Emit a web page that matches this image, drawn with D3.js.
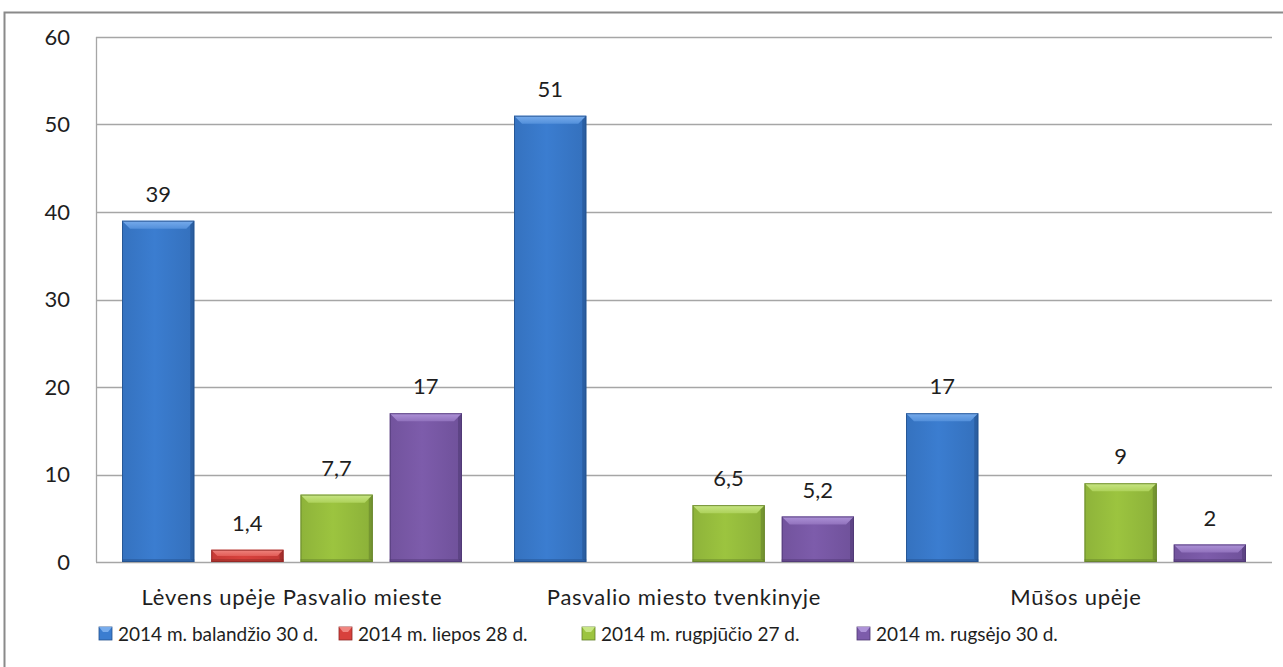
<!DOCTYPE html>
<html>
<head>
<meta charset="utf-8">
<script src="https://cdn.jsdelivr.net/npm/d3@7"></script>
<style>
  body { margin: 0; background: #fff; }
  svg { display: block; }
</style>
</head>
<body>
<div id="chart"></div>
<script>
// Duomenys
const categories = ["Lėvens upėje Pasvalio mieste", "Pasvalio miesto tvenkinyje", "Mūšos upėje"];
const seriesNames = ["2014 m. balandžio 30 d.", "2014 m. liepos 28 d.", "2014 m. rugpjūčio 27 d.", "2014 m. rugsėjo 30 d."];
const valuesBalandzio = [39, 51, 17];
const valuesLiepos = [1.4, null, null];
const valuesRugpjucio = [7.7, 6.5, 9];
const valuesRugsejo = [17, 5.2, 2];
const yTicks = [0, 10, 20, 30, 40, 50, 60];

const seriesValues = [valuesBalandzio, valuesLiepos, valuesRugpjucio, valuesRugsejo];
const colors = [
  { base: "#3b7dd0", light: "#78acec", dark: "#23508c" },
  { base: "#d8413c", light: "#f08680", dark: "#8e2724" },
  { base: "#9cc43f", light: "#c8e685", dark: "#63802a" },
  { base: "#7d5cab", light: "#ae93d8", dark: "#4f3873" }
];

const W = 1283, H = 667;
const margin = { top: 37, right: 11, bottom: 105, left: 96 };
const font = "Lato, 'Open Sans', sans-serif";

const svg = d3.select("#chart").append("svg")
  .attr("width", W).attr("height", H)
  .style("font-family", font);

// gradientai stulpeliams
const defs = svg.append("defs");
colors.forEach((c, i) => {
  const gr = defs.append("linearGradient").attr("id", "body" + i)
    .attr("x1", 0).attr("x2", 1).attr("y1", 0).attr("y2", 0);
  gr.append("stop").attr("offset", 0).attr("stop-color", d3.interpolateRgb(c.base, c.dark)(0.25));
  gr.append("stop").attr("offset", 0.45).attr("stop-color", c.base);
  gr.append("stop").attr("offset", 1).attr("stop-color", d3.interpolateRgb(c.base, c.dark)(0.3));
  const tg = defs.append("linearGradient").attr("id", "top" + i)
    .attr("x1", 0).attr("x2", 0).attr("y1", 0).attr("y2", 1);
  tg.append("stop").attr("offset", 0).attr("stop-color", c.light);
  tg.append("stop").attr("offset", 1).attr("stop-color", d3.interpolateRgb(c.light, c.base)(0.6));
});

// Rėmelis
svg.append("rect")
  .attr("x", 4.5).attr("y", 12.5)
  .attr("width", W + 20).attr("height", H + 20)
  .attr("fill", "none").attr("stroke", "#8a8a8a").attr("stroke-width", 2);

const x0 = d3.scaleBand()
  .domain(categories)
  .range([margin.left, W - margin.right])
  .paddingInner(0).paddingOuter(0);

const x1 = d3.scaleBand()
  .domain(d3.range(seriesNames.length))
  .range([26, x0.bandwidth() - 26])
  .paddingInner(0.19).paddingOuter(0);

const y = d3.scaleLinear().domain([0, 60]).range([H - margin.bottom, margin.top]);

// Tinklelis
svg.append("g").selectAll("line")
  .data(yTicks)
  .join("line")
  .attr("x1", margin.left).attr("x2", W - margin.right)
  .attr("y1", d => Math.round(y(d)) + 0.5).attr("y2", d => Math.round(y(d)) + 0.5)
  .attr("stroke", "#a6a6a6").attr("stroke-width", 1.3);

// Y ašis
svg.append("line")
  .attr("x1", margin.left + 0.5).attr("x2", margin.left + 0.5)
  .attr("y1", y(60)).attr("y2", y(0))
  .attr("stroke", "#a6a6a6").attr("stroke-width", 1.3);

svg.append("g").selectAll("text")
  .data(yTicks)
  .join("text")
  .attr("x", 70).attr("y", d => y(d))
  .attr("dy", "0.36em")
  .attr("text-anchor", "end")
  .attr("font-size", 22).attr("fill", "#1e1e1e")
  .text(d => d);

// Stulpeliai
const bars = [];
categories.forEach((c, ci) => {
  seriesValues.forEach((vals, si) => {
    if (vals[ci] != null) bars.push({ c, si, v: vals[ci] });
  });
});

const fmt = v => String(v).replace(".", ",");

const g = svg.append("g");
bars.forEach(d => {
  const bx = x0(d.c) + x1(d.si);
  const bw = x1.bandwidth();
  const by = y(d.v);
  const bh = y(0) - by;
  const col = colors[d.si];
  const bev = Math.min(8, bh / 2);
  const bg = g.append("g");
  // pagrindas
  bg.append("rect").attr("x", bx).attr("y", by).attr("width", bw).attr("height", bh)
    .attr("fill", `url(#body${d.si})`);
  // viršus
  bg.append("polygon")
    .attr("points", [[bx, by], [bx + bw, by], [bx + bw - bev, by + bev], [bx + bev, by + bev]].join(" "))
    .attr("fill", `url(#top${d.si})`);
  // dešinė
  bg.append("polygon")
    .attr("points", [[bx + bw, by], [bx + bw - 4, by + Math.min(4, bev)], [bx + bw - 4, by + bh - 3], [bx + bw, by + bh]].join(" "))
    .attr("fill", col.dark).attr("opacity", 0.55);
  // apačia
  bg.append("rect").attr("x", bx).attr("y", by + bh - 3).attr("width", bw).attr("height", 3)
    .attr("fill", col.dark).attr("opacity", 0.45);
  bg.append("rect").attr("x", bx + 0.5).attr("y", by + 0.5).attr("width", bw - 1).attr("height", bh - 1)
    .attr("fill", "none").attr("stroke", col.dark).attr("stroke-width", 1).attr("opacity", 0.8);

  g.append("text")
    .attr("x", bx + bw / 2).attr("y", by - 19)
    .attr("text-anchor", "middle")
    .attr("font-size", 22).attr("fill", "#1e1e1e")
    .text(fmt(d.v));
});

// Kategorijų pavadinimai
svg.append("g").selectAll("text")
  .data(categories)
  .join("text")
  .attr("x", d => x0(d) + x0.bandwidth() / 2)
  .attr("y", 605)
  .attr("text-anchor", "middle")
  .attr("font-size", 22).attr("letter-spacing", 0.8).attr("fill", "#1e1e1e")
  .text(d => d);

// Legenda
const legendX = [99, 339, 582, 857];
const leg = svg.append("g");
seriesNames.forEach((s, i) => {
  const lg = leg.append("g").attr("transform", `translate(${legendX[i]}, 627)`);
  lg.append("rect").attr("width", 13).attr("height", 13)
    .attr("fill", colors[i].base).attr("stroke", colors[i].dark).attr("stroke-width", 0.8);
  lg.append("polygon").attr("points", "0,0 13,0 9,5 4,5").attr("fill", colors[i].light);
  lg.append("text").attr("x", 19).attr("y", 14)
    .attr("font-size", 19).attr("fill", "#1e1e1e")
    .text(s);
});
</script>
</body>
</html>
